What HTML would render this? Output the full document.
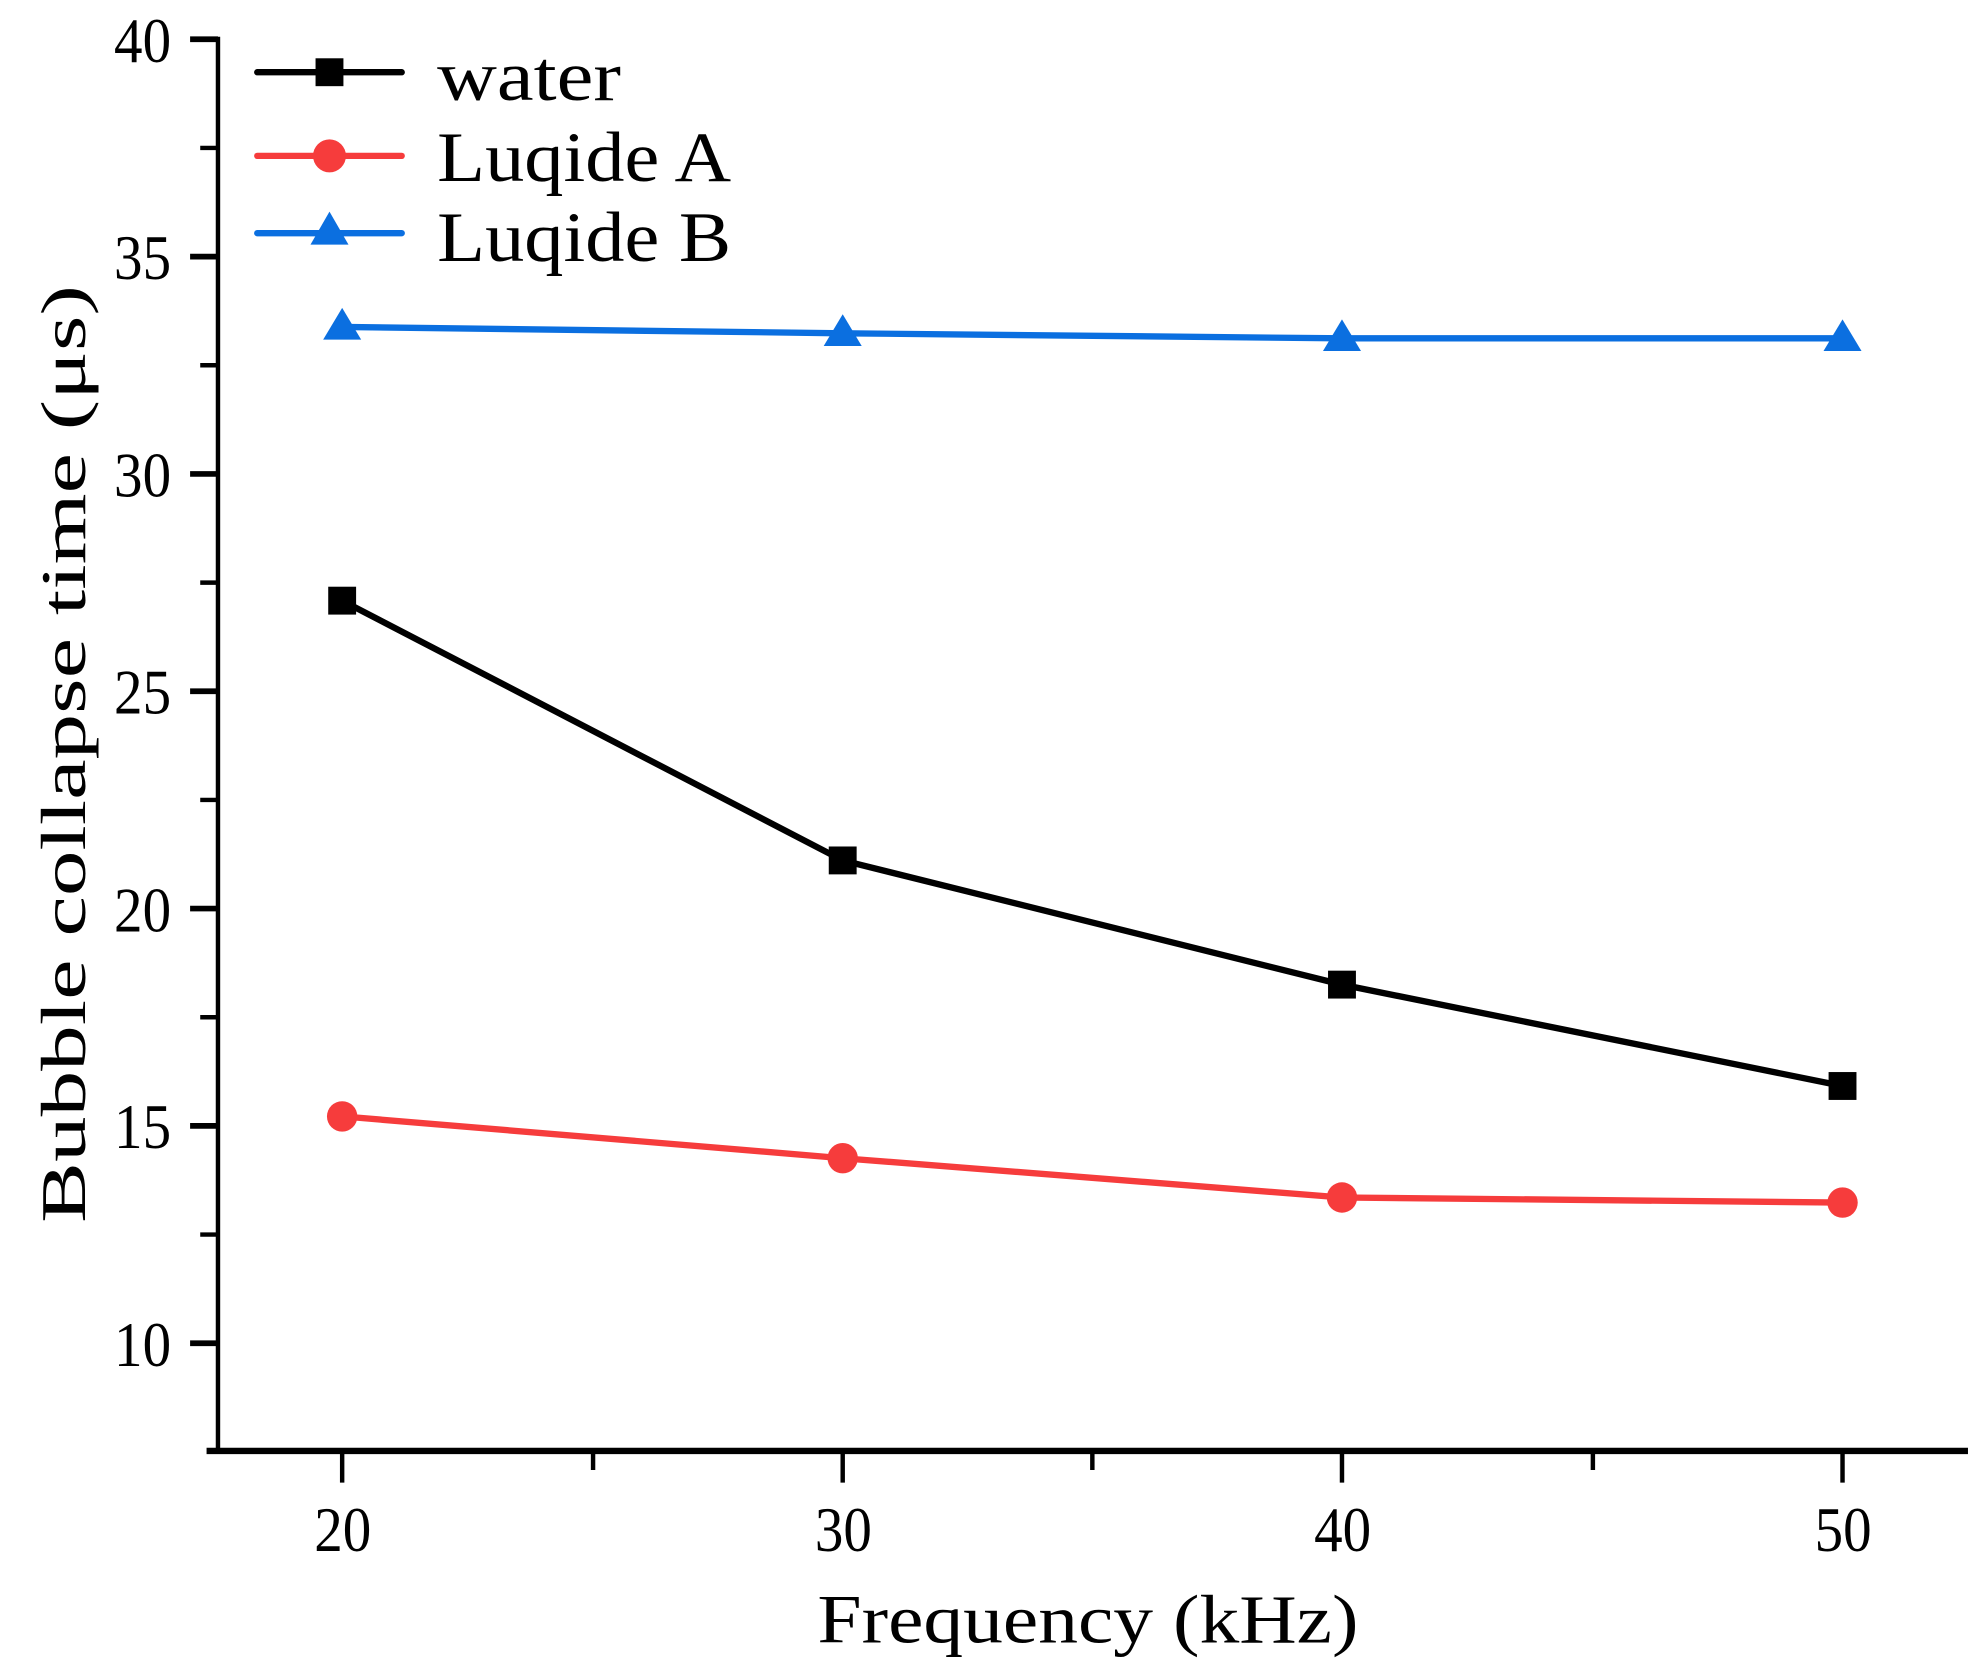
<!DOCTYPE html>
<html><head><style>html,body{margin:0;padding:0;background:#fff;}svg{display:block;}</style></head>
<body>
<svg width="1987" height="1676" viewBox="0 0 1568 1322.6" xmlns="http://www.w3.org/2000/svg" font-family="'Liberation Serif', serif">
<rect width="1568" height="1323" fill="#fff"/>
<g stroke="#000" stroke-width="3.5" fill="none">
<line x1="172" y1="29" x2="172" y2="1147"/>
<line x1="163" y1="1145" x2="1553" y2="1145" stroke-width="5"/>
<path d="M150 31H172M150 202.5H172M150 374H172M150 545.5H172M150 717H172M150 888.5H172M150 1060H172" stroke-width="4.5"/>
<path d="M158 116.75H172M158 288.25H172M158 459.75H172M158 631.25H172M158 802.75H172M158 974.25H172" stroke-width="3.5"/>
<path d="M270 1145V1170M665 1145V1170M1059 1145V1170M1454 1145V1170"/>
<path d="M468 1145V1160M862 1145V1160M1257 1145V1160"/>
</g>
<g font-size="50" text-anchor="end" fill="#000">
<text x="135" y="49" textLength="45" lengthAdjust="spacingAndGlyphs">40</text>
<text x="135" y="220" textLength="45" lengthAdjust="spacingAndGlyphs">35</text>
<text x="135" y="392" textLength="45" lengthAdjust="spacingAndGlyphs">30</text>
<text x="135" y="563" textLength="45" lengthAdjust="spacingAndGlyphs">25</text>
<text x="135" y="735" textLength="45" lengthAdjust="spacingAndGlyphs">20</text>
<text x="135" y="906" textLength="45" lengthAdjust="spacingAndGlyphs">15</text>
<text x="135" y="1078" textLength="45" lengthAdjust="spacingAndGlyphs">10</text>
</g>
<g font-size="50" fill="#000">
<text x="248" y="1224" textLength="45" lengthAdjust="spacingAndGlyphs">20</text>
<text x="643" y="1224" textLength="45" lengthAdjust="spacingAndGlyphs">30</text>
<text x="1037" y="1224" textLength="45" lengthAdjust="spacingAndGlyphs">40</text>
<text x="1432" y="1224" textLength="45" lengthAdjust="spacingAndGlyphs">50</text>
</g>
<text x="645" y="1296" font-size="54" textLength="427" lengthAdjust="spacingAndGlyphs">Frequency (kHz)</text>
<text transform="translate(67,965) rotate(-90)" font-size="50" textLength="740" lengthAdjust="spacingAndGlyphs">Bubble collapse time (μs)</text>
<polyline points="270,258 665,263 1059,267 1454,267" fill="none" stroke="#0b6fe0" stroke-width="5"/>
<polyline points="270,474 665,679 1059,777 1454,857" fill="none" stroke="#000" stroke-width="5"/>
<polyline points="270,881 665,914 1059,945 1454,949" fill="none" stroke="#f63c3c" stroke-width="5"/>
<g fill="#0b6fe0">
<path d="M270 243L285 268H255Z"/><path d="M665 248L680 273H650Z"/><path d="M1059 252L1074 277H1044Z"/><path d="M1454 252L1469 277H1439Z"/>
</g>
<g fill="#000">
<rect x="259" y="463" width="22" height="22"/><rect x="654" y="668" width="22" height="22"/><rect x="1048" y="766" width="22" height="22"/><rect x="1443" y="846" width="22" height="22"/>
</g>
<g fill="#f63c3c">
<circle cx="270" cy="881" r="12"/><circle cx="665" cy="914" r="12"/><circle cx="1059" cy="945" r="12"/><circle cx="1454" cy="949" r="12"/>
</g>
<line x1="203" y1="57" x2="317" y2="57" stroke="#000" stroke-width="5" stroke-linecap="round"/>
<rect x="249" y="46" width="22" height="22" fill="#000"/>
<line x1="203" y1="123" x2="317" y2="123" stroke="#f63c3c" stroke-width="5" stroke-linecap="round"/>
<circle cx="260" cy="123" r="13" fill="#f63c3c"/>
<line x1="203" y1="184" x2="317" y2="184" stroke="#0b6fe0" stroke-width="5" stroke-linecap="round"/>
<path d="M260 167L275 193H245Z" fill="#0b6fe0"/>
<g font-size="56" fill="#000">
<text x="345" y="79" textLength="145" lengthAdjust="spacingAndGlyphs">water</text>
<text x="345" y="143" textLength="232" lengthAdjust="spacingAndGlyphs">Luqide A</text>
<text x="345" y="206" textLength="232" lengthAdjust="spacingAndGlyphs">Luqide B</text>
</g>
</svg>
</body></html>
